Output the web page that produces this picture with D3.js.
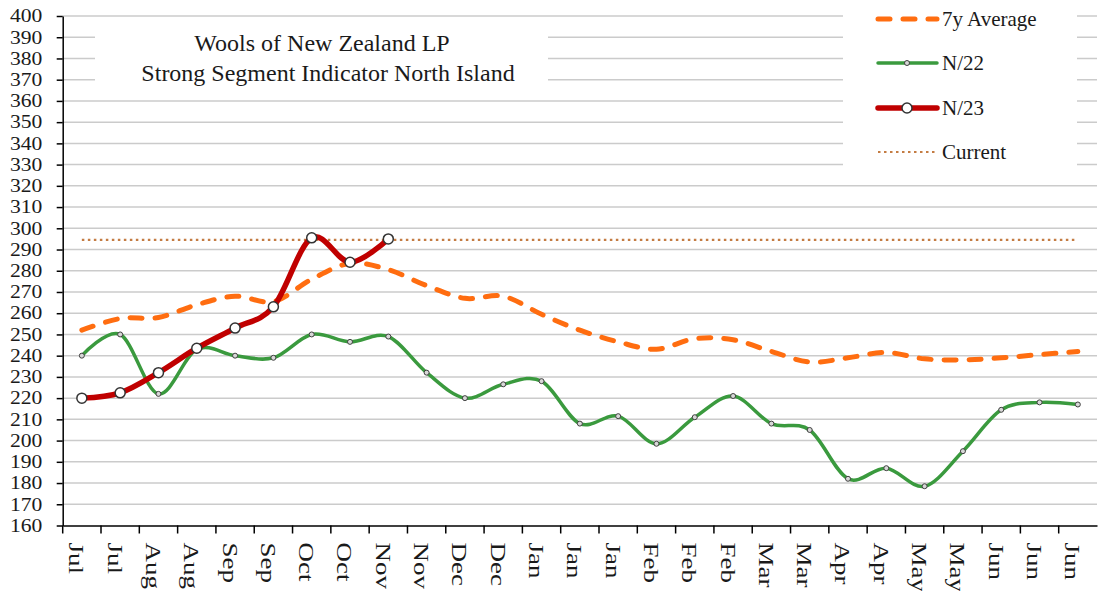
<!DOCTYPE html>
<html>
<head>
<meta charset="utf-8">
<script src="https://cdn.jsdelivr.net/npm/d3@7"></script>
<style>
    body { margin: 0; background: #fff; }
    svg text { font-family: "Liberation Serif", "Times New Roman", serif !important; fill: #1a1a1a; }
</style>
</head>
<body>
<div id="chart"></div>
<script>
// Category labels (fortnightly sale periods)
const months = ['Jul', 'Jul', 'Aug', 'Aug', 'Sep', 'Sep', 'Oct', 'Oct', 'Nov', 'Nov', 'Dec', 'Dec',
    'Jan', 'Jan', 'Jan', 'Feb', 'Feb', 'Feb', 'Mar', 'Mar', 'Apr', 'Apr', 'May', 'May', 'Jun', 'Jun', 'Jun'];

// Series values
const avg7y = [252, 257.5, 258, 264, 268, 265.5, 276, 283.5, 280.5, 273, 267, 268,
    259.5, 252, 246.5, 243, 248, 247.5, 242, 237, 239, 241.5, 238.5, 238, 239, 240.5, 242];
const n22 = [240, 250, 222, 243, 240, 239, 250, 246.5, 249, 232, 220, 226.5,
    228, 208, 211.5, 198.5, 211, 221, 208, 205, 182, 187, 178.5, 195, 214.5, 218, 217];
const n23 = [220, 222.5, 232, 243.5, 253, 263, 295.5, 284, 295];
const currentLevel = 294.5;

// Y tick labels
const yTicks = [160, 170, 180, 190, 200, 210, 220, 230, 240, 250, 260, 270, 280,
    290, 300, 310, 320, 330, 340, 350, 360, 370, 380, 390, 400];

const width = 1103, height = 591;
const margin = { top: 16, right: 6, bottom: 65.5, left: 62.7 };
const serif = '"Liberation Serif", "Times New Roman", serif';

const svg = d3.select('#chart')
    .append('svg')
    .attr('width', width)
    .attr('height', height)
    .style('font-family', serif);

// Scales
const x = d3.scaleBand()
    .domain(months.map((d, i) => i))
    .range([margin.left, width - margin.right])
    .padding(0);
const cx = i => x(i) + x.bandwidth() / 2;

const y = d3.scaleLinear()
    .domain([160, 400])
    .range([height - margin.bottom, margin.top]);

// Gridlines
svg.append('g')
    .selectAll('line')
    .data(yTicks.filter(v => v > 160))
    .join('line')
    .attr('x1', margin.left)
    .attr('x2', width - margin.right)
    .attr('y1', d => y(d))
    .attr('y2', d => y(d))
    .attr('stroke', '#cbcbcb')
    .attr('stroke-width', 1.5);

// Title box (covers gridlines)
svg.append('rect')
    .attr('x', 95).attr('y', 21)
    .attr('width', 453).attr('height', 73)
    .attr('fill', '#fff');
svg.append('text')
    .attr('x', 322).attr('y', 51)
    .attr('text-anchor', 'middle')
    .style('font-family', serif)
    .style('font-size', '24px')
    .text('Wools of New Zealand LP');
svg.append('text')
    .attr('x', 328).attr('y', 81)
    .attr('text-anchor', 'middle')
    .style('font-family', serif)
    .style('font-size', '24px')
    .text('Strong Segment Indicator North Island');

// Legend box (covers gridlines)
svg.append('rect')
    .attr('x', 843).attr('y', 0)
    .attr('width', 234).attr('height', 175)
    .attr('fill', '#fff');

// Axes
const yAxis = svg.append('g')
    .attr('transform', `translate(${margin.left},0)`)
    .call(d3.axisLeft(y).tickValues(yTicks).tickSize(6).tickSizeOuter(0))
    .attr('font-family', serif);
yAxis.select('.domain').attr('stroke', '#000').attr('stroke-width', 1.5);
yAxis.selectAll('.tick line').attr('stroke', '#000').attr('stroke-width', 1.5);
yAxis.selectAll('.tick text')
    .attr('x', -17)
    .attr('transform', 'scale(1.2,1)')
    .style('font-family', serif)
    .style('font-size', '18px');

const xAxis = svg.append('g')
    .attr('transform', `translate(0,${height - margin.bottom})`)
    .call(d3.axisBottom(x).tickFormat(i => months[i]).tickSize(8).tickSizeOuter(0))
    .attr('font-family', serif);
xAxis.select('.domain').attr('stroke', '#000').attr('stroke-width', 1.5);
xAxis.selectAll('.tick line')
    .attr('stroke', '#000')
    .attr('stroke-width', 1.5)
    .attr('transform', `translate(${-x.bandwidth() / 2},0)`);
xAxis.selectAll('.tick text')
    .attr('x', 17)
    .attr('y', 0)
    .attr('dy', '0.58em')
    .attr('transform', 'rotate(90) scale(1,0.8)')
    .style('text-anchor', 'start')
    .style('font-family', serif)
    .style('font-size', '27px');

// Lines
const line = d3.line()
    .x((d, i) => cx(i))
    .y(d => y(d))
    .curve(d3.curveCardinal.tension(0));

// Current level (dotted)
svg.append('line')
    .attr('x1', cx(0))
    .attr('x2', cx(months.length - 1))
    .attr('y1', y(currentLevel))
    .attr('y2', y(currentLevel))
    .attr('stroke', '#c47c43')
    .attr('stroke-width', 2.2)
    .attr('stroke-dasharray', '2.5,3.5');

// 7y average (dashed)
svg.append('path')
    .datum(avg7y)
    .attr('d', line)
    .attr('fill', 'none')
    .attr('stroke', '#ff6d10')
    .attr('stroke-width', 5)
    .attr('stroke-linecap', 'round')
    .attr('stroke-dasharray', '12,13');

// N/22
svg.append('path')
    .datum(n22)
    .attr('d', line)
    .attr('fill', 'none')
    .attr('stroke', '#3a9a3e')
    .attr('stroke-width', 3.5);
svg.append('g')
    .selectAll('circle')
    .data(n22)
    .join('circle')
    .attr('cx', (d, i) => cx(i))
    .attr('cy', d => y(d))
    .attr('r', 2.5)
    .attr('fill', '#d8d8d8')
    .attr('stroke', '#404040')
    .attr('stroke-width', 1);

// N/23
svg.append('path')
    .datum(n23)
    .attr('d', line)
    .attr('fill', 'none')
    .attr('stroke', '#c00000')
    .attr('stroke-width', 5.5);
svg.append('g')
    .selectAll('circle')
    .data(n23)
    .join('circle')
    .attr('cx', (d, i) => cx(i))
    .attr('cy', d => y(d))
    .attr('r', 5)
    .attr('fill', '#fff')
    .attr('stroke', '#333')
    .attr('stroke-width', 1.5);

// Legend entries
const legend = svg.append('g');
const legendItems = [
    { name: '7y Average', color: '#ff6d10', width: 5, dash: '12,13', cap: 'round', marker: null },
    { name: 'N/22', color: '#3a9a3e', width: 3.5, dash: null, cap: 'round', marker: { r: 2.5, fill: '#d8d8d8', stroke: '#404040', sw: 1 } },
    { name: 'N/23', color: '#c00000', width: 5.5, dash: null, cap: 'round', marker: { r: 5, fill: '#fff', stroke: '#333', sw: 1.5 } },
    { name: 'Current', color: '#c47c43', width: 2.2, dash: '2.5,3.5', cap: 'butt', marker: null }
];
const legendY = [19, 63, 108, 152];

legendItems.forEach((item, i) => {
    const ly = legendY[i];
    legend.append('line')
        .attr('x1', 878).attr('x2', 937)
        .attr('y1', ly).attr('y2', ly)
        .attr('stroke', item.color)
        .attr('stroke-width', item.width)
        .attr('stroke-linecap', item.cap)
        .attr('stroke-dasharray', item.dash);
    if (item.marker) {
        legend.append('circle')
            .attr('cx', 907).attr('cy', ly)
            .attr('r', item.marker.r)
            .attr('fill', item.marker.fill)
            .attr('stroke', item.marker.stroke)
            .attr('stroke-width', item.marker.sw);
    }
    legend.append('text')
        .attr('x', 942)
        .attr('y', ly)
        .attr('dy', '0.35em')
        .style('font-family', serif)
        .style('font-size', '21px')
        .text(item.name);
});
</script>
</body>
</html>
